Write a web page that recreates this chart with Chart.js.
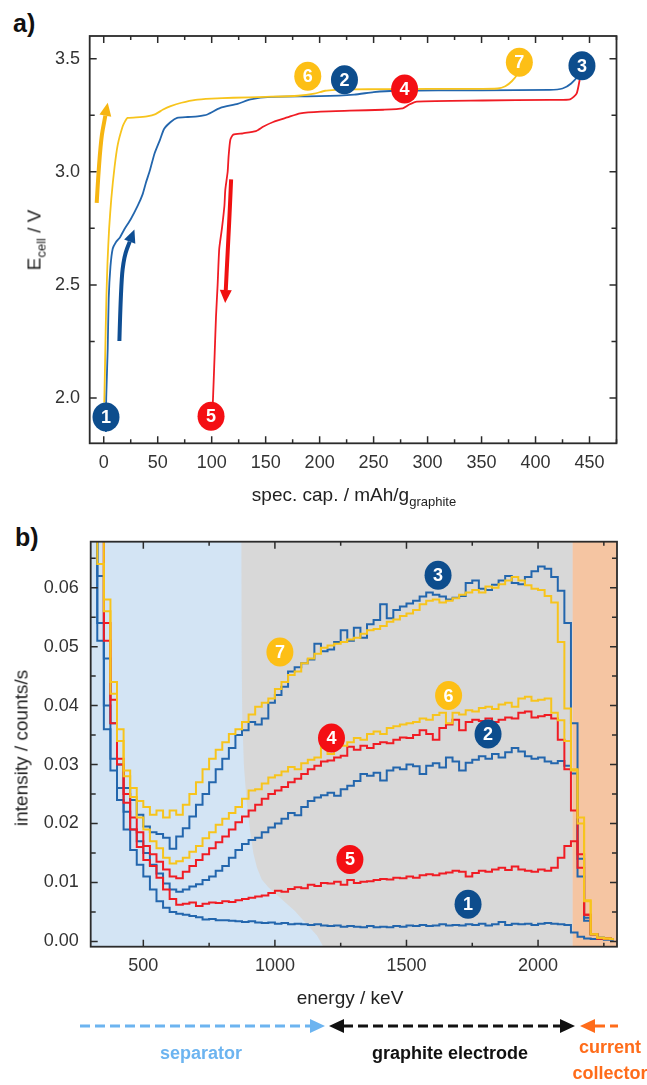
<!DOCTYPE html>
<html>
<head>
<meta charset="utf-8">
<script src="https://cdn.jsdelivr.net/npm/chart.js@4.4.1/dist/chart.umd.min.js"></script>
<style>
  html, body { margin: 0; padding: 0; background: #fff; }
  body { width: 647px; height: 1085px; position: relative; overflow: hidden;
         font-family: "Liberation Sans", Arial, sans-serif; color: #222; }
  .box { position: absolute; left: 0; width: 647px; }
  .panel { position: absolute; font-weight: bold; font-size: 25px; line-height: 25px; color: #111; }
  .title { position: absolute; font-size: 19px; line-height: 19px; color: #222; white-space: nowrap;
           transform: translate(-50%, -50%); }
  .title sub { font-size: 13px; line-height: 0; vertical-align: -5px; }
  .rot { transform: translate(-50%, -50%) rotate(-90deg); }
</style>
</head>
<body>

<div class="panel" style="left:13px; top:11px;">a)</div>
<div class="panel" style="left:15px; top:525px;">b)</div>

<div class="box" style="top:0; height:500px;"><canvas id="chartA" width="647" height="500"></canvas></div>
<div class="box" style="top:500px; height:520px;"><canvas id="chartB" width="647" height="520"></canvas></div>

<div class="title rot" style="left:34px; top:240px;">E<sub>cell</sub> / V</div>
<div class="title" style="left:354px; top:494px;">spec. cap. / mAh/g<sub>graphite</sub></div>
<div class="title rot" style="left:21px; top:748px;">intensity / counts/s</div>
<div class="title" style="left:350px; top:997px;">energy / keV</div>

<svg style="position:absolute; left:0; top:1000px;" width="647" height="85">
  <g stroke-width="3" stroke-dasharray="10 5" fill="none">
    <line x1="80" y1="26" x2="311" y2="26" stroke="#6cb4f0"/>
    <line x1="343" y1="26" x2="561" y2="26" stroke="#111"/>
    <line x1="595" y1="26" x2="618" y2="26" stroke="#ff6c1a"/>
  </g>
  <polygon points="325,26 310,19 310,33" fill="#6cb4f0"/>
  <polygon points="329,26 344,19 344,33" fill="#111"/>
  <polygon points="575,26 560,19 560,33" fill="#111"/>
  <polygon points="580,26 595,19 595,33" fill="#ff6c1a"/>
  <g font-family="Liberation Sans, Arial, sans-serif" font-weight="bold" font-size="18" text-anchor="middle">
    <text x="201" y="59" fill="#6cb4f0">separator</text>
    <text x="450" y="59" fill="#111">graphite electrode</text>
    <text x="610" y="53" fill="#ff6c1a">current</text>
    <text x="610" y="79" fill="#ff6c1a">collector</text>
  </g>
</svg>

<script>
// ---------- panel a) : cell voltage vs specific capacity ----------
const yellowCap = [0.5, 1, 1.8, 2.5, 3.5, 5, 7, 10, 13, 17.5, 20, 22, 30, 40, 48, 55, 62, 72, 85, 100,
                   120, 150, 180, 195, 205, 215, 230, 260, 300, 340, 365, 372, 378, 383, 385];
const yellowE   = [1.98, 2.1, 2.3, 2.45, 2.6, 2.75, 2.88, 3.02, 3.12, 3.2, 3.225, 3.238, 3.24, 3.245, 3.255, 3.275, 3.29, 3.305, 3.318, 3.323,
                   3.327, 3.331, 3.336, 3.345, 3.358, 3.362, 3.364, 3.365, 3.366, 3.366, 3.368, 3.378, 3.40, 3.43, 3.47];

const blueCap = [2, 2.3, 3.7, 4.6, 6.2, 8.3, 11.4, 15, 19, 25, 31.5, 36, 39, 43, 47, 52, 56, 62, 68, 78,
                 87, 96, 108, 124, 136, 155, 200, 232, 250, 270, 350, 413, 425, 433, 440, 443];
const blueE   = [1.85, 2.0, 2.22, 2.44, 2.58, 2.66, 2.69, 2.71, 2.745, 2.79, 2.85, 2.9, 2.95, 3.01, 3.08, 3.14, 3.19, 3.22, 3.238, 3.242,
                 3.245, 3.253, 3.282, 3.30, 3.32, 3.331, 3.334, 3.341, 3.352, 3.358, 3.36, 3.362, 3.368, 3.39, 3.43, 3.47];

const redCap = [443, 441, 438, 432, 413, 351, 290, 283, 277, 259, 228, 201, 182, 170, 157, 148, 141, 129, 120, 117.3,
                115.7, 114.8, 112.6, 111.8, 109.5, 107, 105.5, 104, 102.8, 101.8, 101];
const redE   = [3.47, 3.41, 3.345, 3.32, 3.318, 3.315, 3.31, 3.297, 3.28, 3.274, 3.27, 3.266, 3.258, 3.24, 3.22, 3.2, 3.18, 3.17, 3.164, 3.142,
                3.07, 3.0, 2.92, 2.85, 2.75, 2.66, 2.5, 2.36, 2.2, 2.07, 1.97];

const capTicks = [0, 50, 100, 150, 200, 250, 300, 350, 400, 450];
const eTicks   = [2.0, 2.5, 3.0, 3.5];

const markNumA = ['1', '5', '6', '2', '4', '7', '3'];
const markCapA = [2.1, 99.4, 189, 223, 278.7, 385, 443];
const markEA   = [1.916, 1.92, 3.422, 3.407, 3.366, 3.484, 3.469];

// direction arrows (start ... tip)
const arrowYellowCap = [-6.5, -3.5, 3.7];
const arrowYellowE   = [2.863, 3.12, 3.305];
const arrowBlueCap   = [14.5, 16, 19, 28.4];
const arrowBlueE     = [2.252, 2.51, 2.628, 2.745];
const arrowRedCap    = [118, 116.5, 114.5, 112.5];
const arrowRedE      = [2.966, 2.8, 2.62, 2.42];

// ---------- panel b) : energy spectra ----------
const energy = [312.5, 337.5, 362.5, 387.5, 412.5, 437.5, 462.5, 487.5, 512.5, 537.5,
  562.5, 587.5, 612.5, 637.5, 662.5, 687.5, 712.5, 737.5, 762.5, 787.5,
  812.5, 837.5, 862.5, 887.5, 912.5, 937.5, 962.5, 987.5, 1012.5, 1037.5,
  1062.5, 1087.5, 1112.5, 1137.5, 1162.5, 1187.5, 1212.5, 1237.5, 1262.5, 1287.5,
  1312.5, 1337.5, 1362.5, 1387.5, 1412.5, 1437.5, 1462.5, 1487.5, 1512.5, 1537.5,
  1562.5, 1587.5, 1612.5, 1637.5, 1662.5, 1687.5, 1712.5, 1737.5, 1762.5, 1787.5,
  1812.5, 1837.5, 1862.5, 1887.5, 1912.5, 1937.5, 1962.5, 1987.5, 2012.5, 2037.5,
  2062.5, 2087.5, 2112.5, 2137.5, 2162.5, 2187.5, 2212.5, 2237.5, 2262.5, 2287.5];

const spec1 = [.072, .051, .036, .029, .024, .019, .0155, .013, .011, .0088,
  .0068, .0057, .005, .0047, .0045, .0043, .0041, .0037, .0038, .0036,
  .0036, .0035, .0034, .0033, .0034, .0032, .0031, .0032, .0030, .0031,
  .0029, .0030, .0029, .0028, .0029, .0027, .0026, .0027, .0025, .0026,
  .0025, .0024, .0026, .0024, .0025, .0024, .0026, .0025, .0027, .0026,
  .0028, .0026, .0027, .0029, .0027, .0028, .0027, .0029, .0028, .0030,
  .0027, .0029, .0033, .0028, .0030, .0029, .0030, .0028, .0030, .0031,
  .0030, .0029, .0028, .0015, .0008, .0005, .0004, .0004, .0003, .0003];
const spec2 = [.072, .054, .040, .031, .026, .022, .019, .017, .015, .013,
  .0115, .0098, .0088, .0084, .0088, .0093, .0097, .0104, .0110, .0120,
  .0128, .0142, .0155, .0165, .0172, .0176, .0185, .0193, .0200, .0208,
  .0218, .0214, .0228, .0238, .0244, .0248, .0252, .0247, .0258, .0264,
  .0272, .0284, .0281, .0286, .0273, .0290, .0295, .0292, .0300, .0297,
  .0284, .0298, .0302, .0295, .0312, .0305, .0290, .0303, .0308, .0314,
  .0310, .0318, .0312, .0321, .0328, .0322, .0314, .0310, .0312, .0305,
  .0302, .0306, .0298, .0285, .0110, .0035, .0012, .0006, .0005, .0004];
const spec3 = [.075, .062, .048, .037, .030, .026, .024, .0215, .0195, .0185,
  .0182, .0176, .0157, .0178, .0192, .0212, .0232, .0250, .0270, .0292,
  .0310, .0328, .0350, .0358, .0372, .0368, .0378, .0405, .0418, .0432,
  .0458, .0465, .0472, .0478, .0505, .0492, .0495, .0508, .0528, .0510,
  .0532, .0515, .0538, .0545, .0572, .0548, .0562, .0568, .0573, .0578,
  .0585, .0592, .0588, .0585, .0580, .0583, .0586, .0608, .0612, .0598,
  .0596, .0605, .0612, .0620, .0608, .0606, .0618, .0628, .0636, .0632,
  .0618, .0595, .0540, .0370, .0140, .0040, .0012, .0006, .0005, .0004];
const spec4 = [.075, .070, .054, .041, .031, .025, .021, .0185, .0162, .0148,
  .0135, .0122, .0110, .0107, .0118, .0128, .0138, .0148, .0158, .0168,
  .0178, .0190, .0202, .0212, .0222, .0232, .0242, .0250, .0256, .0262,
  .0270, .0276, .0284, .0292, .0298, .0305, .0307, .0312, .0315, .0330,
  .0325, .0332, .0328, .0335, .0338, .0336, .0342, .0346, .0345, .0350,
  .0358, .0352, .0342, .0362, .0368, .0376, .0358, .0372, .0376, .0374,
  .0378, .0372, .0376, .0380, .0378, .0388, .0390, .0380, .0382, .0384,
  .0378, .0342, .0292, .0222, .0125, .0045, .0012, .0005, .0005, .0004];
const spec5 = [.075, .070, .051, .037, .030, .0235, .019, .016, .0138, .0128,
  .0108, .0088, .0072, .0062, .0064, .0066, .0060, .0064, .0066, .0065,
  .0068, .0067, .0070, .0072, .0074, .0076, .0078, .0082, .0086, .0084,
  .0089, .0092, .0090, .0096, .0094, .0099, .0098, .0101, .0096, .0104,
  .0099, .0101, .0102, .0104, .0106, .0105, .0108, .0107, .0110, .0108,
  .0112, .0114, .0112, .0115, .0117, .0120, .0118, .0110, .0116, .0120,
  .0118, .0122, .0125, .0121, .0127, .0122, .0120, .0118, .0122, .0120,
  .0125, .0142, .0162, .0170, .0148, .0045, .0012, .0005, .0005, .0004];
const spec6 = [.075, .064, .056, .042, .034, .028, .0245, .021, .019, .017,
  .0158, .0142, .0132, .0136, .0142, .0152, .0162, .0175, .0185, .0198,
  .0208, .0218, .0228, .0242, .0256, .0258, .0268, .0278, .0282, .0288,
  .0296, .0292, .0302, .0308, .0312, .0330, .0318, .0335, .0332, .0338,
  .0345, .0342, .0352, .0356, .0352, .0362, .0365, .0368, .0370, .0372,
  .0378, .0376, .0384, .0388, .0370, .0388, .0385, .0392, .0390, .0396,
  .0398, .0394, .0402, .0405, .0398, .0412, .0415, .0408, .0410, .0412,
  .0388, .0375, .0340, .0292, .0200, .0070, .0012, .0006, .0005, .0004];
const spec7 = [.075, .070, .058, .044, .036, .029, .026, .0238, .0228, .0215,
  .0222, .0210, .0222, .0215, .0232, .0250, .0270, .0292, .0310, .0325,
  .0338, .0352, .0360, .0372, .0385, .0398, .0405, .0412, .0428, .0440,
  .0452, .0458, .0472, .0480, .0488, .0498, .0502, .0505, .0508, .0512,
  .0515, .0522, .0528, .0530, .0535, .0542, .0546, .0552, .0556, .0562,
  .0572, .0578, .0580, .0575, .0578, .0582, .0588, .0592, .0596, .0592,
  .0602, .0600, .0606, .0612, .0618, .0612, .0604, .0598, .0596, .0586,
  .0575, .0508, .0395, .0290, .0210, .0068, .0012, .0006, .0005, .0004];

const energyTicks = [500, 1000, 1500, 2000];
const intensityTicks = [0, 0.01, 0.02, 0.03, 0.04, 0.05, 0.06];
const intMin = -0.0009, intMax = 0.0678;

const markNumB = ['3', '7', '6', '4', '2', '5', '1'];
const markEnB  = [1620, 1019, 1660, 1215, 1810, 1285, 1734];
const markIntB = [0.0621, 0.0491, 0.0417, 0.0345, 0.0352, 0.0139, 0.0063];

// shaded regions: separator (blue), graphite electrode (grey), current collector (orange)
const sepEdgeE = [300, 2300];
const sepEdgeI = [intMin, intMin];
const graphEdgeE = [872, 873, 876, 882, 892, 905, 918, 932, 950, 975, 1010, 1045, 1075, 1105, 1133, 1160, 1184, 2130];
const graphEdgeI = [intMax, 0.05, 0.038, 0.03, 0.024, 0.019, 0.015, 0.0125, 0.0105, 0.0092, 0.0078, 0.0064, 0.0052, 0.0037, 0.0023, 0.001, intMin, intMin];
const collEdgeE = [2130, 2300];
const collEdgeI = [intMin, intMin];

// ---------- styling ----------
const C = {
  blue: '#2366ad', blueMark: '#0d4d8d', blueArrow: '#0f4e93',
  red: '#f01c24', redMark: '#f40f14', redArrow: '#f01010',
  yellow: '#f7c41c', yellowMark: '#fdbf16', yellowArrow: '#f6b511'
};
const markColor = { '1': C.blueMark, '2': C.blueMark, '3': C.blueMark,
                    '4': C.redMark, '5': C.redMark, '6': C.yellowMark, '7': C.yellowMark };
const tickFont = { family: '"Liberation Sans", Arial, sans-serif', size: 18 };

const pts = (xs, ys) => xs.map((x, i) => ({ x: x, y: ys[i] }));

// inward ticks on all four sides + frame
const tickFrame = {
  id: 'tickFrame',
  afterDatasetsDraw(chart, args, o) {
    const ctx = chart.ctx, a = chart.chartArea;
    const sx = chart.scales.x, sy = chart.scales.y;
    ctx.save();
    ctx.strokeStyle = '#2b2b2b';
    ctx.lineWidth = 1.5;
    ctx.beginPath();
    for (let k = Math.ceil(sx.min / o.xMinor); k * o.xMinor <= sx.max; k++) {
      const v = k * o.xMinor;
      const len = Math.abs(v / o.xMajor - Math.round(v / o.xMajor)) < 1e-6 ? 7 : 4;
      const p = sx.getPixelForValue(v);
      ctx.moveTo(p, a.bottom); ctx.lineTo(p, a.bottom - len);
      ctx.moveTo(p, a.top); ctx.lineTo(p, a.top + len);
    }
    for (let k = Math.ceil(sy.min / o.yMinor - 1e-9); k * o.yMinor <= sy.max + 1e-12; k++) {
      const v = k * o.yMinor;
      const len = Math.abs(v / o.yMajor - Math.round(v / o.yMajor)) < 1e-6 ? 7 : 5;
      const p = sy.getPixelForValue(v);
      ctx.moveTo(a.left, p); ctx.lineTo(a.left + len, p);
      ctx.moveTo(a.right, p); ctx.lineTo(a.right - len, p);
    }
    ctx.stroke();
    ctx.lineWidth = 1.8;
    ctx.strokeRect(a.left, a.top, a.right - a.left, a.bottom - a.top);
    ctx.restore();
  }
};

// thick curved direction arrows
const arrowPlugin = {
  id: 'arrows',
  afterDatasetsDraw(chart, args, o) {
    if (!o.list) return;
    const ctx = chart.ctx, sx = chart.scales.x, sy = chart.scales.y;
    o.list.forEach(ar => {
      const p = ar.x.map((x, i) => [sx.getPixelForValue(x), sy.getPixelForValue(ar.y[i])]);
      const tip = p[p.length - 1], prev = p[p.length - 2];
      let dx = tip[0] - prev[0], dy = tip[1] - prev[1];
      const d = Math.hypot(dx, dy); dx /= d; dy /= d;
      const head = 13, half = 6;
      const base = [tip[0] - dx * head, tip[1] - dy * head];
      const path = p.slice(0, -1).concat([base]);
      ctx.save();
      ctx.strokeStyle = ar.color; ctx.fillStyle = ar.color;
      ctx.lineWidth = 4; ctx.lineCap = 'butt';
      ctx.beginPath();
      ctx.moveTo(path[0][0], path[0][1]);
      for (let i = 1; i < path.length - 1; i++) {
        const mx = (path[i][0] + path[i + 1][0]) / 2, my = (path[i][1] + path[i + 1][1]) / 2;
        ctx.quadraticCurveTo(path[i][0], path[i][1], mx, my);
      }
      ctx.lineTo(base[0], base[1]);
      ctx.stroke();
      ctx.beginPath();
      ctx.moveTo(tip[0], tip[1]);
      ctx.lineTo(base[0] - dy * half, base[1] + dx * half);
      ctx.lineTo(base[0] + dy * half, base[1] - dx * half);
      ctx.closePath();
      ctx.fill();
      ctx.restore();
    });
  }
};

// numbered state markers
const markPlugin = {
  id: 'numMarks',
  afterDatasetsDraw(chart, args, o) {
    const ctx = chart.ctx, sx = chart.scales.x, sy = chart.scales.y;
    ctx.save();
    o.num.forEach((n, i) => {
      const px = sx.getPixelForValue(o.x[i]), py = sy.getPixelForValue(o.y[i]);
      ctx.beginPath();
      ctx.ellipse(px, py, 13.5, 14.5, 0, 0, 2 * Math.PI);
      ctx.fillStyle = markColor[n];
      ctx.fill();
      ctx.fillStyle = '#fff';
      ctx.font = 'bold 18px "Liberation Sans Narrow", "Liberation Sans", Arial, sans-serif';
      ctx.textAlign = 'center';
      ctx.textBaseline = 'middle';
      ctx.fillText(n, px, py + 1);
    });
    ctx.restore();
  }
};

function axis(min, max, ticks, fmt, size, pad, horizontal) {
  return {
    type: 'linear', min: min, max: max,
    afterFit: s => { if (horizontal) s.height = size; else s.width = size; },
    afterBuildTicks: s => { s.ticks = ticks.map(v => ({ value: v })); },
    grid: { display: false, drawTicks: false },
    border: { display: false },
    ticks: { callback: v => v.toFixed(fmt), padding: pad, color: '#333', font: tickFont, maxRotation: 0, autoSkip: false }
  };
}

// ---------- chart a ----------
new Chart(document.getElementById('chartA'), {
  type: 'scatter',
  data: {
    datasets: [
      { data: pts(redCap, redE), borderColor: C.red },
      { data: pts(yellowCap, yellowE), borderColor: C.yellow },
      { data: pts(blueCap, blueE), borderColor: C.blue }
    ].map(d => Object.assign(d, { showLine: true, borderWidth: 1.8, pointRadius: 0, tension: 0.2 }))
  },
  options: {
    responsive: false, animation: false, events: [],
    layout: { padding: { left: 0, top: 36, right: 30.5, bottom: 22.7 } },
    scales: {
      x: axis(-13, 475, capTicks, 0, 34, 9, true),
      y: axis(1.8, 3.6, eTicks, 1, 89.7, 9.7, false)
    },
    plugins: {
      legend: { display: false }, tooltip: { enabled: false },
      tickFrame: { xMajor: 50, xMinor: 25, yMajor: 0.5, yMinor: 0.25 },
      arrows: { list: [
        { x: arrowYellowCap, y: arrowYellowE, color: C.yellowArrow },
        { x: arrowBlueCap, y: arrowBlueE, color: C.blueArrow },
        { x: arrowRedCap, y: arrowRedE, color: C.redArrow }
      ] },
      numMarks: { num: markNumA, x: markCapA, y: markEA }
    }
  },
  plugins: [tickFrame, arrowPlugin, markPlugin]
});

// ---------- chart b ----------
const region = (xs, ys, color, order) => ({
  data: pts(xs, ys), showLine: true, borderWidth: 0, pointRadius: 0,
  backgroundColor: color, fill: 'end', order: order
});
const spectrum = (ys, color, order) => ({
  data: pts(energy, ys), showLine: true, stepped: 'middle', borderColor: color,
  borderWidth: 2, pointRadius: 0, order: order
});

new Chart(document.getElementById('chartB'), {
  type: 'scatter',
  data: {
    datasets: [
      region(sepEdgeE, sepEdgeI, '#d3e4f4', 30),
      region(graphEdgeE, graphEdgeI, '#d8d8d8', 29),
      region(collEdgeE, collEdgeI, '#f5c5a2', 28),
      spectrum(spec1, C.blue, 10),
      spectrum(spec2, C.blue, 9),
      spectrum(spec3, C.blue, 8),
      spectrum(spec5, C.red, 7),
      spectrum(spec4, C.red, 6),
      spectrum(spec6, C.yellow, 5),
      spectrum(spec7, C.yellow, 4)
    ]
  },
  options: {
    responsive: false, animation: false, events: [],
    layout: { padding: { left: 0, top: 41.7, right: 30, bottom: 39.3 } },
    scales: {
      x: axis(300, 2300, energyTicks, 0, 34, 9, true),
      y: axis(intMin, intMax, intensityTicks, 2, 90.7, 12, false)
    },
    plugins: {
      legend: { display: false }, tooltip: { enabled: false },
      tickFrame: { xMajor: 500, xMinor: 250, yMajor: 0.01, yMinor: 0.005 },
      numMarks: { num: markNumB, x: markEnB, y: markIntB }
    }
  },
  plugins: [tickFrame, markPlugin]
});
</script>
</body>
</html>
